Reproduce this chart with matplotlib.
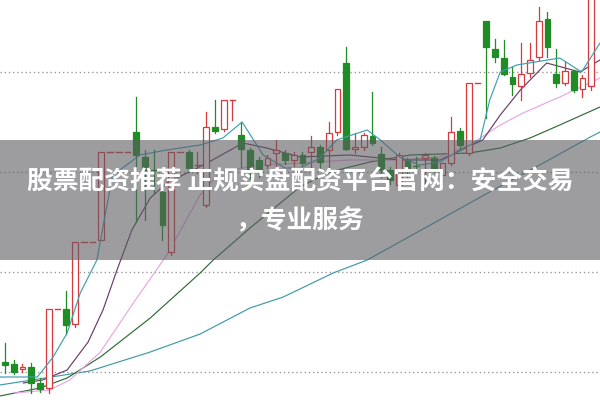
import matplotlib.pyplot as plt
from matplotlib.patches import Rectangle

plt.rcParams['font.family'] = ['Noto Sans CJK SC', 'DejaVu Sans']

# daily candles (price)
opens = [8.10, 8.08, 8.03, 8.05, 7.89, 7.84, 8.63, 8.63, 8.48, 9.30,
         9.30, 9.32, 10.20, 10.20, 10.20, 10.40, 10.15, 10.03, 9.80, 9.20,
         10.20, 10.20, 10.06, 9.67, 10.45, 10.43, 10.72, 10.37, 10.22, 10.12,
         10.07, 10.19, 10.19, 10.12, 10.17, 10.20, 10.25, 10.22, 10.40, 11.09,
         10.23, 10.25, 10.36, 10.18, 10.02, 9.87, 10.12, 10.07, 10.14, 10.14,
         9.97, 10.09, 10.41, 10.19, 10.89, 11.51, 11.23, 11.14, 10.95, 10.86,
         10.99, 11.15, 11.53, 10.98, 10.89, 11.01, 10.83, 10.86]
highs = [8.29, 8.12, 8.08, 8.09, 7.94, 8.63, 8.63, 8.81, 9.30, 9.30,
         9.30, 10.20, 10.20, 10.20, 10.20, 10.75, 10.22, 10.22, 9.82, 10.20,
         10.20, 10.22, 10.20, 10.60, 10.72, 10.72, 10.72, 10.50, 10.24, 10.15,
         10.17, 10.32, 10.22, 10.20, 10.20, 10.36, 10.27, 10.50, 10.83, 11.25,
         10.39, 10.39, 10.80, 10.25, 10.05, 10.19, 10.14, 10.15, 10.19, 10.16,
         10.09, 10.55, 10.44, 10.89, 10.89, 11.51, 11.33, 11.32, 11.05, 11.29,
         11.29, 11.65, 11.60, 11.23, 11.10, 11.02, 10.97, 11.90]
lows = [7.99, 7.98, 8.00, 7.79, 7.80, 7.79, 8.63, 8.38, 8.45, 9.30,
        9.30, 9.32, 10.20, 10.20, 10.20, 9.50, 9.52, 9.79, 9.32, 9.17,
        10.20, 10.00, 9.99, 9.65, 10.39, 10.41, 10.52, 10.05, 9.92, 9.95,
        10.04, 10.00, 10.08, 10.06, 10.02, 10.02, 10.02, 10.05, 10.37, 10.22,
        10.19, 10.22, 10.27, 9.95, 9.88, 9.87, 9.95, 10.00, 9.89, 10.00,
        9.87, 10.07, 10.22, 10.17, 10.89, 10.54, 11.10, 10.97, 10.77, 10.72,
        10.95, 11.12, 11.15, 10.85, 10.87, 10.80, 10.75, 10.82]
closes = [8.07, 8.00, 8.05, 7.89, 7.83, 8.63, 8.63, 8.47, 9.30, 9.30,
          9.30, 10.20, 10.20, 10.20, 10.20, 10.17, 9.99, 10.02, 9.47, 10.20,
          10.20, 10.04, 10.07, 10.45, 10.41, 10.72, 10.72, 10.23, 10.02, 10.00,
          10.14, 10.22, 10.12, 10.17, 10.09, 10.25, 10.10, 10.39, 10.83, 10.23,
          10.25, 10.37, 10.29, 10.02, 9.92, 10.17, 10.02, 10.06, 10.17, 10.04,
          10.09, 10.40, 10.27, 10.89, 10.89, 11.25, 11.15, 10.98, 10.88, 10.98,
          11.12, 11.51, 11.25, 10.89, 11.01, 10.82, 10.94, 11.80]

# moving average lines (day index, price)
ma5_x = [-0.6, 3.7, 5.5, 7.1, 8.6, 10.5, 12.3, 13.9, 15.4, 18.5, 22.3, 24.9, 27.1,
         29.5, 32.0, 33.7, 36.0, 37.9, 41.4, 42.9, 45.1, 47.4, 49.7, 52.0, 54.3,
         55.4, 56.6, 58.5, 63.4, 65.9, 68.0]
ma5_y = [7.95, 7.95, 8.15, 8.39, 8.79, 9.12, 9.97, 10.07, 10.17, 10.22, 10.27, 10.34, 10.50,
         10.17, 10.04, 10.04, 10.14, 10.32, 10.42, 10.32, 10.15, 10.07, 10.10, 10.22, 10.32,
         10.72, 11.00, 11.07, 11.14, 11.00, 11.29]
ma10_x = [2.1, 4.3, 7.1, 9.5, 11.2, 12.8, 14.5, 16.6, 18.5, 23.1, 27.2, 29.9, 33.7, 39.4,
          45.1, 49.7, 54.6, 56.6, 58.9, 61.9, 65.7, 68.0]
ma10_y = [7.89, 7.92, 8.02, 8.30, 8.62, 9.02, 9.42, 9.74, 9.89, 10.09, 10.29, 10.24, 10.15, 10.17,
          10.12, 10.12, 10.32, 10.57, 10.82, 11.09, 11.00, 11.12]
ma20_x = [1.1, 5.1, 7.4, 10.9, 14.9, 18.5, 22.3, 24.6, 29.1, 33.7, 39.4, 45.1, 49.7,
          53.1, 56.6, 59.2, 63.4, 68.0]
ma20_y = [7.79, 7.82, 7.92, 8.20, 8.72, 9.17, 9.77, 10.00, 10.07, 10.09, 10.12, 10.12, 10.15,
          10.27, 10.47, 10.59, 10.75, 10.94]
ma60_x = [-0.6, 4.0, 7.1, 10.9, 16.6, 22.3, 23.8, 28.0, 33.7, 37.1, 41.7, 46.3, 53.1,
          56.6, 60.0, 63.4, 68.0]
ma60_y = [7.76, 7.84, 7.94, 8.15, 8.54, 8.99, 9.12, 9.44, 9.85, 10.00, 10.10, 10.17, 10.19,
          10.24, 10.34, 10.47, 10.65]
ma120_x = [-0.6, 9.7, 16.6, 22.3, 28.0, 31.8, 37.5, 41.4, 48.6, 55.8, 61.1, 66.9, 68.0]
ma120_y = [7.87, 8.01, 8.20, 8.38, 8.64, 8.75, 8.99, 9.12, 9.47, 9.82, 10.07, 10.35, 10.40]

grid_levels = [8, 9, 10, 11]
title_lines = ['股票配资推荐 正规实盘配资平台官网：安全交易', '，专业服务']

UP = '#d63a3e'
DOWN = '#1f8c25'
W = 0.65

fig = plt.figure(figsize=(6, 4), dpi=100)
ax = fig.add_axes([0, 0, 1, 1])
ax.set_xlim(-0.571, 68.0)
ax.set_ylim(7.72, 11.72)
ax.axis('off')

for g in grid_levels:
    ax.axhline(g, color='#9a9a9a', lw=1, ls=(0, (1, 2)), zorder=0)

# candles
for i, (o, h, l, c) in enumerate(zip(opens, highs, lows, closes)):
    col = UP if c >= o else DOWN
    top, bot = max(o, c), min(o, c)
    ax.plot([i, i], [top, h], color=col, lw=0.9, zorder=2)
    ax.plot([i, i], [l, bot], color=col, lw=0.9, zorder=2)
    if top - bot < 0.01:
        ax.plot([i - W / 2, i + W / 2], [c, c], color=col, lw=1.0, zorder=3)
    elif c >= o:
        ax.add_patch(Rectangle((i - W / 2, bot), W, top - bot, facecolor='white',
                               edgecolor=col, lw=0.9, zorder=3))
    else:
        ax.add_patch(Rectangle((i - W / 2, bot), W, top - bot, facecolor=col,
                               edgecolor=col, lw=0.9, zorder=3))

# moving averages
ax.plot(ma120_x, ma120_y, color='#3f9aa6', lw=0.85, zorder=1)
ax.plot(ma60_x, ma60_y, color='#2f6b35', lw=0.85, zorder=1)
ax.plot(ma20_x, ma20_y, color='#e9a6e4', lw=0.85, zorder=1)
ax.plot(ma10_x, ma10_y, color='#6a3b68', lw=0.85, zorder=1)
ax.plot(ma5_x, ma5_y, color='#3f9fb0', lw=0.85, zorder=4)

# gray banner with title
ax.add_patch(Rectangle((0, 0.35), 1, 0.30, transform=ax.transAxes,
                       facecolor='#5c5c61', alpha=0.6, lw=0, zorder=10))
ax.text(0.5, 1 - 182 / 400, title_lines[0], transform=ax.transAxes, ha='center',
        va='center', color='white', fontsize=18.5, fontweight='bold', zorder=11)
ax.text(0.5, 1 - 220 / 400, title_lines[1], transform=ax.transAxes, ha='center',
        va='center', color='white', fontsize=18.5, fontweight='bold', zorder=11)

fig.savefig('out.png', dpi=100)
